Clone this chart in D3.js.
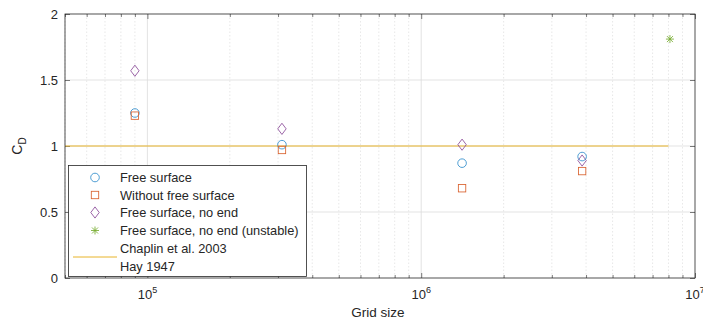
<!DOCTYPE html>
<html>
<head>
<meta charset="utf-8">
<script src="https://cdn.jsdelivr.net/npm/d3@7"></script>
<style>
  html, body { margin: 0; padding: 0; background: #fff; }
  svg { display: block; font-family: "Liberation Sans", Arial, sans-serif; }
</style>
</head>
<body>
<svg id="chart" width="703" height="331"></svg>
<script>
// Drag coefficient vs. grid size
const gridSize        = [9.0e4, 3.1e5, 1.41e6, 3.87e6];
const freeSurface     = [1.25, 1.01, 0.87, 0.92];
const withoutFree     = [1.23, 0.97, 0.68, 0.81];
const freeNoEnd       = [1.57, 1.13, 1.01, 0.89];
const unstableSize    = [8.1e6];
const unstableCd      = [1.81];
const referenceSize   = [5e4, 8e6];
const referenceCd     = [1, 1];

const xMajorTicks = [1e5, 1e6, 1e7];
const xExponents  = ["5", "6", "7"];
const yTicks      = [0, 0.5, 1, 1.5, 2];
const yTickLabels = ["0", "0.5", "1", "1.5", "2"];

const legendLabels = [
  "Free surface",
  "Without free surface",
  "Free surface, no end",
  "Free surface, no end (unstable)",
  "Chaplin et al. 2003",
  "Hay 1947"
];

const colors = {
  blue: "#2F8CCB", orange: "#D9622F", yellow: "#E8B42A",
  purple: "#8A4A98", green: "#77AC30", axis: "#262626"
};

const svg = d3.select("#chart");
const L = 65, R = 695, T = 14, B = 278;

const x = d3.scaleLog().domain([5e4, 1e7]).range([L, R]);
const y = d3.scaleLinear().domain([0, 2]).range([B, T]);

// minor decade ticks
const minorTicks = [];
[1e4, 1e5, 1e6].forEach(d => {
  for (let k = 2; k <= 9; k++) {
    const v = k * d;
    if (v >= 5e4 && v < 1e7) minorTicks.push(v);
  }
});

// grid
const grid = svg.append("g");
grid.selectAll("line.minor").data(minorTicks).join("line")
  .attr("x1", d => x(d)).attr("x2", d => x(d)).attr("y1", T).attr("y2", B)
  .attr("stroke", "#d8d8d8").attr("stroke-width", 0.6).attr("stroke-dasharray", "1.5,2");
grid.selectAll("line.vmaj").data(xMajorTicks.slice(0, 2)).join("line")
  .attr("x1", d => x(d)).attr("x2", d => x(d)).attr("y1", T).attr("y2", B)
  .attr("stroke", "#dcdcdc").attr("stroke-width", 0.8);
grid.selectAll("line.hmaj").data(yTicks.slice(1, 4)).join("line")
  .attr("x1", L).attr("x2", R).attr("y1", d => y(d)).attr("y2", d => y(d))
  .attr("stroke", "#dcdcdc").attr("stroke-width", 0.8);

// axes with inward ticks
function styleAxis(g) {
  g.select(".domain").remove();
  g.selectAll(".tick line").attr("stroke", colors.axis).attr("stroke-width", 0.6);
}
svg.append("g").attr("transform", `translate(0,${B})`)
  .call(d3.axisBottom(x).tickValues(xMajorTicks).tickSize(-5).tickFormat("")).call(styleAxis);
svg.append("g").attr("transform", `translate(0,${B})`)
  .call(d3.axisBottom(x).tickValues(minorTicks).tickSize(-3).tickFormat("")).call(styleAxis);
svg.append("g").attr("transform", `translate(0,${T})`)
  .call(d3.axisTop(x).tickValues(xMajorTicks).tickSize(-5).tickFormat("")).call(styleAxis);
svg.append("g").attr("transform", `translate(0,${T})`)
  .call(d3.axisTop(x).tickValues(minorTicks).tickSize(-3).tickFormat("")).call(styleAxis);
svg.append("g").attr("transform", `translate(${L},0)`)
  .call(d3.axisLeft(y).tickValues(yTicks).tickSize(-5).tickFormat("")).call(styleAxis);
svg.append("g").attr("transform", `translate(${R},0)`)
  .call(d3.axisRight(y).tickValues(yTicks).tickSize(-5).tickFormat("")).call(styleAxis);

// tick labels
svg.append("g").selectAll("text").data(yTicks).join("text")
  .attr("x", L - 7).attr("y", d => y(d) + 4.5)
  .attr("text-anchor", "end").attr("font-size", 13).attr("fill", colors.axis)
  .text((d, i) => yTickLabels[i]);

const xl = svg.append("g").selectAll("text").data(xMajorTicks).join("text")
  .attr("x", d => x(d)).attr("y", 299)
  .attr("text-anchor", "middle").attr("font-size", 13).attr("fill", colors.axis);
xl.append("tspan").text("10");
xl.append("tspan").attr("dy", -6).attr("font-size", 9).text((d, i) => xExponents[i]);

// axis titles
svg.append("text").attr("x", (L + R) / 2 - 2).attr("y", 317)
  .attr("text-anchor", "middle").attr("font-size", 13.5).attr("fill", colors.axis)
  .text("Grid size");
const yt = svg.append("text")
  .attr("transform", `translate(22,${(T + B) / 2}) rotate(-90)`)
  .attr("text-anchor", "middle").attr("font-size", 14).attr("fill", colors.axis);
yt.append("tspan").text("C");
yt.append("tspan").attr("dy", 4).attr("font-size", 10).text("D");

// reference line
svg.append("path")
  .datum(referenceSize.map((d, i) => [d, referenceCd[i]]))
  .attr("d", d3.line().x(d => x(d[0])).y(d => y(d[1])))
  .attr("fill", "none").attr("stroke", colors.yellow).attr("stroke-width", 1);

// marker painters
const markers = {
  circle: (g, c) => g.append("circle").attr("r", 4.3).attr("fill", "none").attr("stroke", c),
  square: (g, c) => g.append("rect").attr("x", -3.7).attr("y", -3.7).attr("width", 7.4).attr("height", 7.4)
    .attr("fill", "none").attr("stroke", c),
  diamond: (g, c) => g.append("path").attr("d", "M0,-5.6L4.2,0L0,5.6L-4.2,0Z").attr("fill", "none").attr("stroke", c),
  star: (g, c) => g.append("path").attr("d", "M-4,0H4M0,-4V4M-3,-3L3,3M-3,3L3,-3").attr("fill", "none").attr("stroke", c)
};

function drawSeries(xs, ys, kind, color) {
  svg.append("g").selectAll("g").data(xs.map((d, i) => [d, ys[i]])).join("g")
    .attr("transform", d => `translate(${x(d[0])},${y(d[1])})`)
    .each(function () { markers[kind](d3.select(this), color).attr("stroke-width", 0.85); });
}
drawSeries(gridSize, freeNoEnd, "diamond", colors.purple);
drawSeries(gridSize, freeSurface, "circle", colors.blue);
drawSeries(gridSize, withoutFree, "square", colors.orange);
drawSeries(unstableSize, unstableCd, "star", colors.green);

// plot frame
svg.append("rect").attr("x", L).attr("y", T).attr("width", R - L).attr("height", B - T)
  .attr("fill", "none").attr("stroke", colors.axis).attr("stroke-width", 0.8);

// legend
const leg = svg.append("g");
leg.append("rect").attr("x", 68.5).attr("y", 165.5).attr("width", 238).attr("height", 111)
  .attr("fill", "#fff").attr("stroke", colors.axis).attr("stroke-width", 0.8);
const rowY = [177.5, 195, 212.5, 230.5, 248.5, 266];
const legKinds = [["circle", colors.blue], ["square", colors.orange], ["diamond", colors.purple], ["star", colors.green]];
legKinds.forEach(([k, c], i) => {
  const g = leg.append("g").attr("transform", `translate(95,${rowY[i]})`);
  markers[k](g, c).attr("stroke-width", 0.85);
});
leg.append("line").attr("x1", 73).attr("x2", 117).attr("y1", 257).attr("y2", 257)
  .attr("stroke", colors.yellow).attr("stroke-width", 1);
leg.selectAll("text").data(legendLabels).join("text")
  .attr("x", 120).attr("y", (d, i) => rowY[i] + 4.5)
  .attr("font-size", 12.8).attr("fill", colors.axis).text(d => d);
</script>
</body>
</html>
